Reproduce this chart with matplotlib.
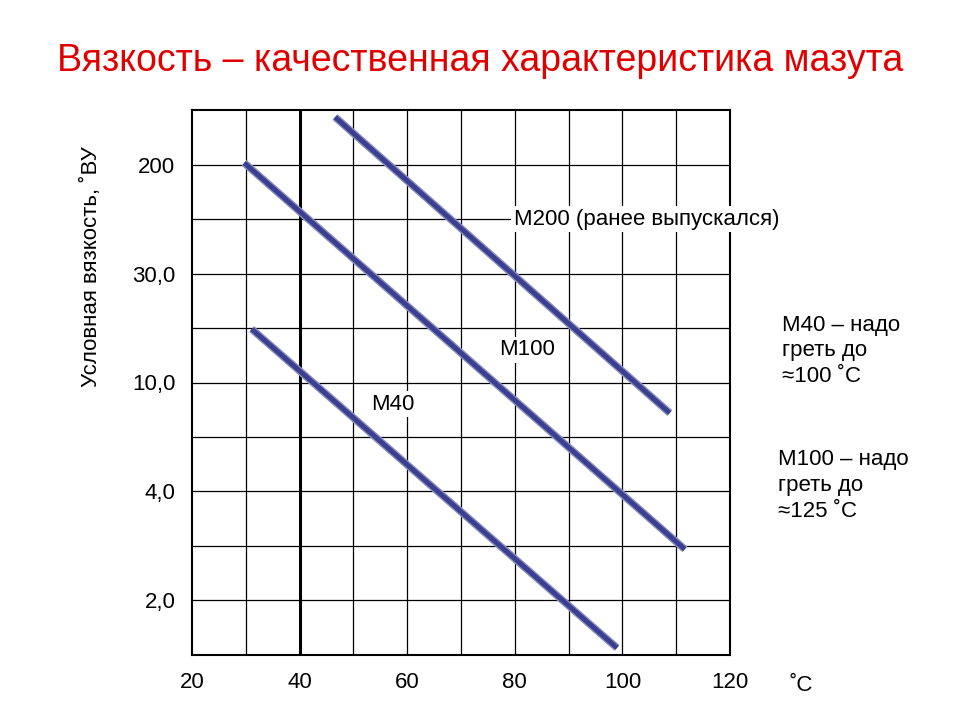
import matplotlib.pyplot as plt

plt.rcParams['font.family'] = ['Liberation Sans', 'DejaVu Sans']

# x in °C, y in grid-row units (linear index of the log-like scale)
x_ticks = [20, 40, 60, 80, 100, 120]
y_tick_pos = [1, 3, 5, 7, 9]
y_tick_labels = ['2,0', '4,0', '10,0', '30,0', '200']

m40_x = [31.1, 99.0]
m40_y = [5.98, 0.13]
m100_x = [29.7, 111.6]
m100_y = [9.03, 1.94]
m200_x = [46.6, 108.8]
m200_y = [9.87, 4.44]

fig = plt.figure(figsize=(9.6, 7.2), dpi=100)
ax = fig.add_axes([0.2, 0.0903, 0.5604, 0.7569])
ax.set_xlim(20, 120)
ax.set_ylim(0, 10)

for xv in range(30, 120, 10):
    ax.axvline(xv, color='black', lw=2.2 if xv == 40 else 0.9)
for yv in range(1, 10):
    ax.axhline(yv, color='black', lw=0.9)
for s in ax.spines.values():
    s.set_linewidth(1.5)

for xs, ys in [(m40_x, m40_y), (m100_x, m100_y), (m200_x, m200_y)]:
    ax.plot(xs, ys, color='#8a8fc0', lw=5.5, solid_capstyle='butt', zorder=3)
    ax.plot(xs, ys, color='#3a3f8f', lw=3.5, solid_capstyle='butt', zorder=4)

bb = dict(facecolor='white', edgecolor='none', pad=2)
ax.text(104.5, 8.0, 'M200 (ранее выпускался)', fontsize=16, ha='center', va='center', bbox=bb, zorder=5)
ax.text(82.3, 5.6, 'M100', fontsize=16, ha='center', va='center', bbox=bb, zorder=5)
ax.text(57.4, 4.6, 'M40', fontsize=16, ha='center', va='center', bbox=bb, zorder=5)

ax.set_xticks(x_ticks)
ax.set_xticklabels([str(v) for v in x_ticks], fontsize=16)
ax.set_yticks(y_tick_pos)
ax.set_yticklabels(y_tick_labels, fontsize=16)
ax.tick_params(length=0, pad=12)

fig.text(0.095, 0.63, 'Условная вязкость, ˚ВУ', fontsize=16, rotation=90,
         ha='center', va='center')
fig.text(0.5, 0.915, 'Вязкость – качественная характеристика мазута',
         color='#e00000', fontsize=27, ha='center', va='center')
fig.text(0.815, 0.563, 'M40 – надо\nгреть до\n≈100 ˚C', fontsize=16, va='top', linespacing=1.3)
fig.text(0.81, 0.376, 'M100 – надо\nгреть до\n≈125 ˚C', fontsize=16, va='top', linespacing=1.3)
fig.text(0.835, 0.048, '˚C', fontsize=16, ha='center', va='center')

fig.savefig('out.png', dpi=100)
